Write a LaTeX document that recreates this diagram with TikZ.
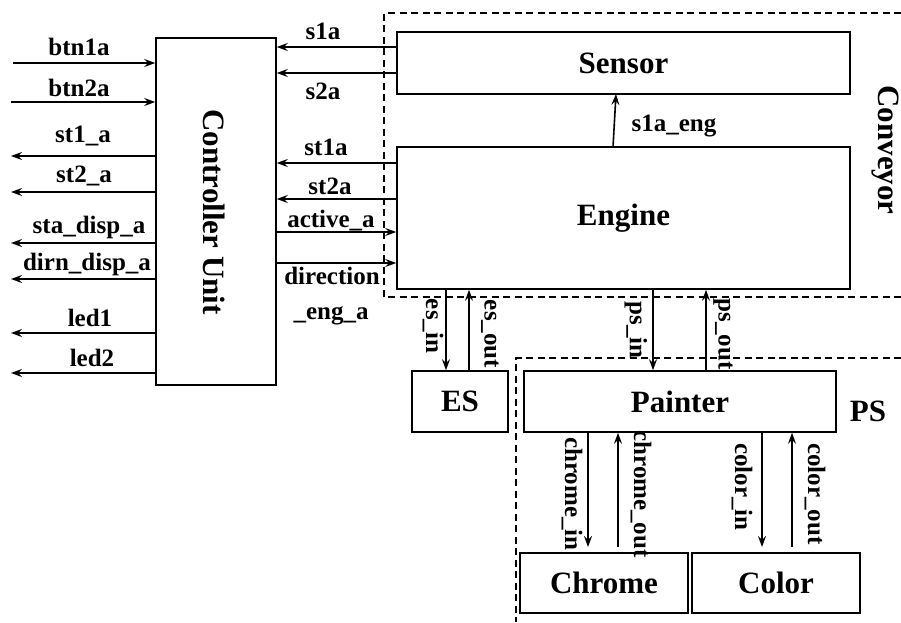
\documentclass[tikz,border=0pt]{standalone}
\usepackage{fontspec}
\setmainfont{Liberation Serif}
\usetikzlibrary{arrows.meta}
\begin{document}
\begin{tikzpicture}[x=1pt,y=-1pt,
  box/.style={draw,line width=1.6pt,inner sep=0pt,font=\fontsize{31}{31}\selectfont\bfseries},
  lbl/.style={inner sep=0pt,font=\fontsize{25}{25}\selectfont\bfseries},
  big/.style={inner sep=0pt,font=\fontsize{31}{31}\selectfont\bfseries},
  arr/.style={line width=1.6pt,-{Stealth[length=11pt,width=8pt,inset=4pt]}},
  grp/.style={line width=1.4pt,dash pattern=on 7pt off 4.5pt}]
\useasboundingbox (0,0) rectangle (901,622);
% groups
\draw[grp] (901,13) -- (384,13) -- (384,297) -- (901,297);
\draw[grp] (901,358) -- (516,358) -- (516,622);
% boxes
\node[box,minimum width=120pt,minimum height=347pt] (cu) at (216,211.5) {};
\node[big,rotate=-90] (cutext) at (214,212) {Controller Unit};
\node[box,minimum width=453pt,minimum height=62pt] (sensor) at (623.5,63) {Sensor};
\node[box,minimum width=453pt,minimum height=142pt] (engine) at (623.5,218) {Engine};
\node[box,minimum width=96pt,minimum height=61pt] (es) at (460,401.5) {ES};
\node[box,minimum width=312pt,minimum height=61pt] (painter) at (680,401.5) {Painter};
\node[box,minimum width=168pt,minimum height=60pt] (chrome) at (604,583) {Chrome};
\node[box,minimum width=168pt,minimum height=60pt] (color) at (776,583) {Color};
\node[big,rotate=-90] (conv) at (885,150) {Conveyor};
\node[big] (ps) at (868,411) {PS};
% left free ends
\coordinate (b1) at (13,63);
\coordinate (b2) at (11,102);
\coordinate (o1) at (11,156);
\coordinate (o2) at (11,192);
\coordinate (o3) at (11,243);
\coordinate (o4) at (11,279);
\coordinate (o5) at (11,333);
\coordinate (o6) at (11,373);
\draw[arr] (b1) -- (cu.west |- b1);
\draw[arr] (b2) -- (cu.west |- b2);
\draw[arr] (cu.west |- o1) -- (o1);
\draw[arr] (cu.west |- o2) -- (o2);
\draw[arr] (cu.west |- o3) -- (o3);
\draw[arr] (cu.west |- o4) -- (o4);
\draw[arr] (cu.west |- o5) -- (o5);
\draw[arr] (cu.west |- o6) -- (o6);
\node[lbl] (lb1) at (79,47) {btn1a};
\node[lbl] (lb2) at (79,88) {btn2a};
\node[lbl] (lo1) at (83,136) {st1\_a};
\node[lbl] (lo2) at (84,176) {st2\_a};
\node[lbl] (lo3) at (89,227) {sta\_disp\_a};
\node[lbl] (lo4) at (87,264) {dirn\_disp\_a};
\node[lbl] (lo5) at (90,318) {led1};
\node[lbl] (lo6) at (92,358) {led2};
% right of controller
\coordinate (y1) at (0,47);
\coordinate (y2) at (0,73);
\coordinate (y3) at (0,163);
\coordinate (y4) at (0,199);
\coordinate (y5) at (0,232);
\coordinate (y6) at (0,263);
\draw[arr] (sensor.west |- y1) -- (cu.east |- y1);
\draw[arr] (sensor.west |- y2) -- (cu.east |- y2);
\draw[arr] (engine.west |- y3) -- (cu.east |- y3);
\draw[arr] (engine.west |- y4) -- (cu.east |- y4);
\draw[arr] (cu.east |- y5) -- (engine.west |- y5);
\draw[arr] (cu.east |- y6) -- (engine.west |- y6);
\node[lbl] (ls1) at (323,31) {s1a};
\node[lbl] (ls2) at (323,91) {s2a};
\node[lbl] (lst1) at (326,147) {st1a};
\node[lbl] (lst2) at (330,186) {st2a};
\node[lbl] (lact) at (331,221) {active\_a};
\node[lbl] (ldir) at (332,276) {direction};
\node[lbl] (leng) at (331,316) {\_eng\_a};
% engine to sensor
\draw[arr] (613,147) -- (616,94);
\node[lbl] (lse) at (674,126) {s1a\_eng};
% engine to ES, painter
\draw[arr] (engine.south -| 446,0) -- (es.north -| 446,0);
\draw[arr] (es.north -| 469,0) -- (engine.south -| 469,0);
\draw[arr] (engine.south -| 653,0) -- (painter.north -| 653,0);
\draw[arr] (painter.north -| 706,0) -- (engine.south -| 706,0);
\node[lbl,rotate=-90] (lesi) at (433,326) {es\_in};
\node[lbl,rotate=-90] (leso) at (490,334) {es\_out};
\node[lbl,rotate=-90] (lpsi) at (636,330) {ps\_in};
\node[lbl,rotate=-90] (lpso) at (723,334) {ps\_out};
% painter to chrome, color
\draw[arr] (painter.south -| 588,0) -- (588,547);
\draw[arr] (618,547) -- (painter.south -| 618,0);
\draw[arr] (painter.south -| 762,0) -- (762,547);
\draw[arr] (792,547) -- (painter.south -| 792,0);
\node[lbl,rotate=-90] (lchi) at (572,494) {chrome\_in};
\node[lbl,rotate=-90] (lcho) at (641,494) {chrome\_out};
\node[lbl,rotate=-90] (lcoi) at (742,487) {color\_in};
\node[lbl,rotate=-90] (lcoo) at (815,494) {color\_out};
\end{tikzpicture}
\end{document}
